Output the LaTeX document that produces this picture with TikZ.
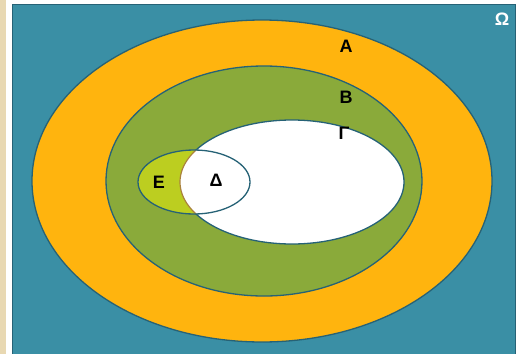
\documentclass[tikz,border=0pt]{standalone}
\usepackage{fontspec}
\setmainfont{Liberation Sans}
\definecolor{teal}{RGB}{58,143,165}
\definecolor{edge}{RGB}{38,98,118}
\definecolor{amber}{RGB}{255,180,14}
\definecolor{olive}{RGB}{138,170,58}
\definecolor{lime}{RGB}{188,206,32}
\definecolor{sand}{RGB}{232,216,178}
\definecolor{rim}{RGB}{170,130,60}
\begin{document}
\begin{tikzpicture}[x=1pt,y=-1pt,
  setring/.style={draw=edge,line width=1.3pt},
  lbl/.style={font=\fontsize{18}{20}\selectfont\bfseries,inner sep=0pt}]
\useasboundingbox (0,0) rectangle (517,354);
\fill[white] (0,0) rectangle (517,354);
\fill[sand] (0,0) rectangle (6,354);
% universe
\fill[teal] (12,4) rectangle (516,354);
\draw[edge,line width=1pt] (12.5,4.5) -- (12.5,354) (12,4.5) -- (516,4.5) (515.5,4.5) -- (515.5,354);
% nested sets
\draw[setring,fill=amber] (262,181) ellipse [x radius=230,y radius=161];
\draw[setring,fill=olive] (264,181) ellipse [x radius=158,y radius=115];
\draw[setring,fill=white] (292,182) ellipse [x radius=112,y radius=62];
% set E, shaded outside Gamma
\begin{scope}
  \clip (194,182) ellipse [x radius=56,y radius=32];
  \fill[lime] (194,182) ellipse [x radius=56,y radius=32];
  \fill[white] (292,182) ellipse [x radius=112,y radius=62];
  \draw[rim,line width=1.2pt] (292,182) ellipse [x radius=112,y radius=62];
\end{scope}
\draw[setring] (194,182) ellipse [x radius=56,y radius=32];
% labels
\node[lbl] (A) at (346,46) {Α};
\node[lbl] (B) at (346,97) {Β};
\node[lbl] (G) at (344,133) {Γ};
\node[lbl] (E) at (159,182) {Ε};
\node[lbl] (D) at (216,180) {Δ};
\node[lbl,text=white] (W) at (502,19) {Ω};
\end{tikzpicture}
\end{document}
